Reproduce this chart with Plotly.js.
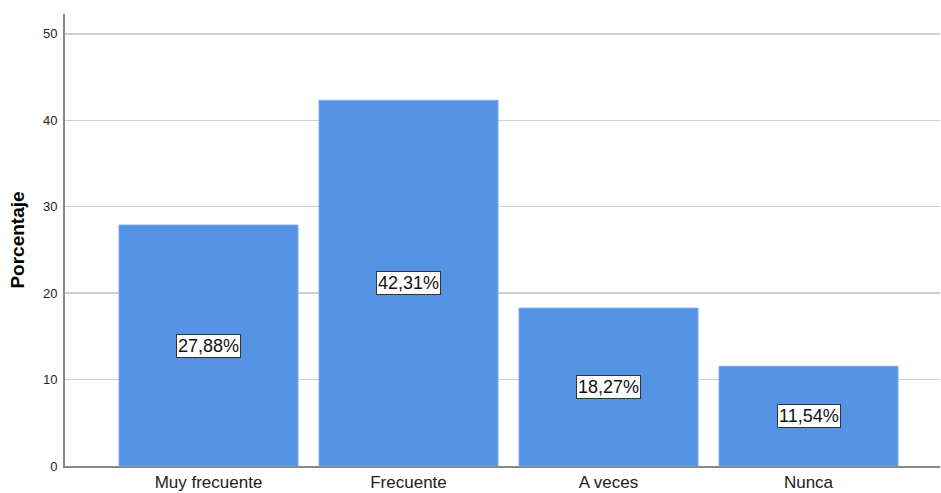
<!DOCTYPE html>
<html>
<head>
<meta charset="utf-8">
<script src="https://cdn.plot.ly/plotly-3.0.1.min.js"></script>
<style>html,body{margin:0;padding:0;background:#fff;}#chart{width:941px;height:493px;}</style>
</head>
<body>
<div id="chart"></div>
<script>
const categories = ["Muy frecuente", "Frecuente", "A veces", "Nunca"];
const values = [27.88, 42.31, 18.27, 11.54];
const labels = ["27,88%", "42,31%", "18,27%", "11,54%"];
const yTicks = [0, 10, 20, 30, 40, 50];

const trace = {
  type: "bar",
  x: categories,
  y: values,
  marker: {color: "#5594E4", line: {color: "#7aaaf0", width: 1}},
  width: 0.895,
  hoverinfo: "none"
};

const annotations = categories.map((c, i) => ({
  x: c, y: values[i] / 2, xref: "x", yref: "y",
  text: labels[i], showarrow: false,
  bgcolor: "#ffffff", bordercolor: "#333333", borderwidth: 1, borderpad: 1,
  font: {family: "Liberation Sans, Arial, sans-serif", size: 18, color: "#111"}
}));

const layout = {
  width: 941, height: 493,
  margin: {l: 65, r: 1, t: 14, b: 27},
  paper_bgcolor: "#fff", plot_bgcolor: "#fff",
  showlegend: false,
  font: {family: "Liberation Sans, Arial, sans-serif", color: "#000"},
  xaxis: {
    type: "category",
    range: [-0.7175, 3.6575],
    showline: true, linecolor: "#888", linewidth: 2,
    showgrid: false, ticks: "",
    tickfont: {size: 17, color: "#222"},
    fixedrange: true
  },
  yaxis: {
    range: [0, 52.3],
    tickvals: yTicks,
    ticktext: yTicks.map(String),
    showline: true, linecolor: "#888", linewidth: 2,
    showgrid: true, gridcolor: "#cfcfcf", gridwidth: 1.5,
    zeroline: false, ticks: "outside", ticklen: 3, tickcolor: "rgba(0,0,0,0)",
    tickfont: {size: 13, color: "#222"},
    title: {text: "Porcentaje", font: {size: 19, color: "#000", weight: "bold"}, standoff: 13},
    fixedrange: true
  },
  annotations: annotations
};

Plotly.newPlot("chart", [trace], layout, {displayModeBar: false, staticPlot: true});
</script>
</body>
</html>
